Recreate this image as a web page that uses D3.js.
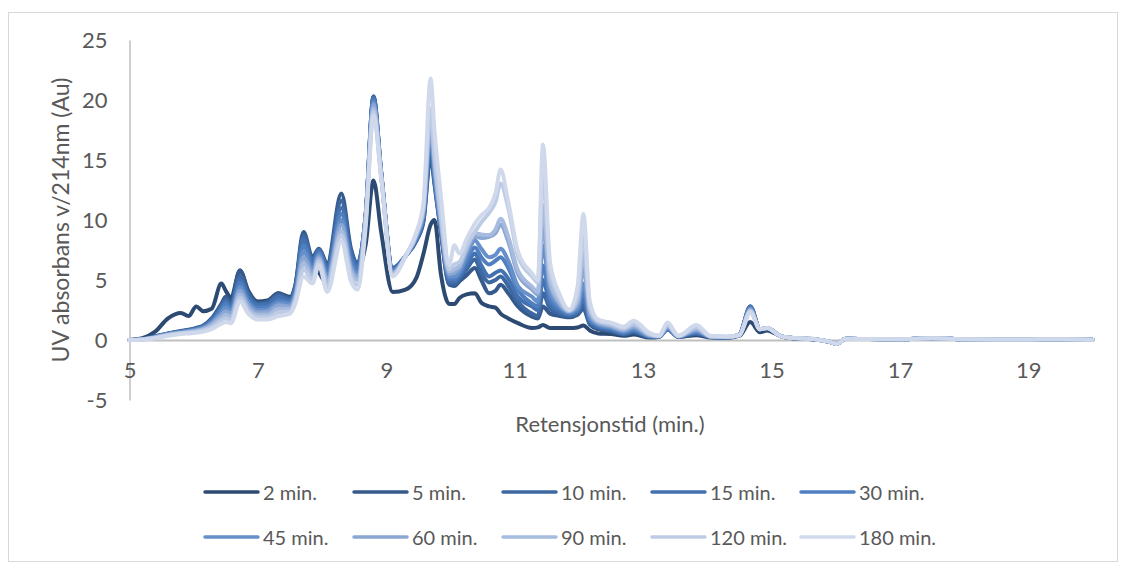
<!DOCTYPE html>
<html>
<head>
<meta charset="utf-8">
<script src="https://cdn.jsdelivr.net/npm/d3@7"></script>
<style>
  html, body { margin: 0; padding: 0; background: #ffffff; }
  svg { display: block; }
  svg text { font-family: Lato, "Open Sans", sans-serif; }
</style>
</head>
<body>
<svg id="chart" width="1125" height="565"></svg>
<script>
// Retention times (min.) shared by all chromatograms
const times = [5.0, 5.2, 5.4, 5.6, 5.8, 5.92, 6.04, 6.15, 6.28, 6.43,
  6.5, 6.58, 6.72, 6.85, 7.0, 7.15, 7.32, 7.5, 7.58, 7.71,
  7.85, 7.95, 8.08, 8.3, 8.45, 8.55, 8.68, 8.8, 8.92, 9.1,
  9.3, 9.47, 9.58, 9.69, 9.75, 9.85, 9.98, 10.06, 10.14, 10.25,
  10.38, 10.48, 10.6, 10.7, 10.78, 10.9, 11.05, 11.27, 11.36, 11.44,
  11.55, 11.7, 11.85, 11.98, 12.07, 12.17, 12.3, 12.5, 12.7, 12.85,
  13.1, 13.25, 13.38, 13.55, 13.83, 14.05, 14.3, 14.5, 14.67, 14.82,
  14.93, 15.15, 15.35, 15.7, 15.9, 16.02, 16.15, 16.5, 17.0, 17.5,
  18.0, 18.5, 19.0, 19.5, 20.0];

// UV absorbance at 214 nm (Au) for each hydrolysis time
const abs2 = [0, 0.15, 0.7, 1.8, 2.25, 2.0, 2.8, 2.4, 2.6, 4.7,
  4.1, 3.5, 5.8, 4.1, 3.2, 3.3, 3.9, 3.6, 4.4, 8.4,
  6.2, 5.6, 4.7, 9.8, 7.0, 5.9, 8.0, 13.3, 9.0, 4.0,
  4.2, 5.2, 7.2, 9.6, 10.0, 5.5, 3.0, 3.0, 3.5, 3.8,
  3.9, 3.1, 2.8, 2.7, 2.2, 1.8, 1.4, 1.0, 1.05, 1.25,
  1.0, 1.0, 1.0, 1.05, 1.2, 0.8, 0.55, 0.5, 0.35, 0.45,
  0.2, 0.25, 0.9, 0.25, 0.4, 0.2, 0.2, 0.35, 1.5, 0.65,
  0.8, 0.3, 0.15, 0.05, -0.15, -0.33, 0.1, 0.08, 0.07, 0.15,
  0.07, 0.05, 0.05, 0.07, 0.03];
const abs5 = [0, 0.08, 0.3, 0.55, 0.75, 0.85, 1.0, 1.2, 1.8, 3.0,
  3.6, 3.1, 5.8, 4.0, 3.1, 3.2, 3.9, 3.5, 4.5, 9.0,
  6.9, 7.6, 6.4, 12.2, 7.6, 6.4, 10.5, 20.3, 14.0, 6.0,
  7.0, 8.3, 9.9, 15.3, 13.0, 9.0, 4.6, 4.5, 4.9, 5.4,
  6.0, 5.0, 3.9, 4.1, 4.6, 3.9, 2.8, 1.95, 1.8, 2.8,
  2.2, 2.0, 1.9, 2.1, 2.6, 1.3, 0.9, 0.7, 0.45, 0.6,
  0.25, 0.3, 0.9, 0.3, 0.5, 0.25, 0.2, 0.45, 2.8, 0.9,
  1.0, 0.3, 0.15, 0.05, -0.15, -0.33, 0.1, 0.08, 0.07, 0.15,
  0.07, 0.05, 0.05, 0.07, 0.03];
const abs10 = [0, 0.07, 0.29, 0.53, 0.72, 0.82, 0.97, 1.17, 1.72, 2.85,
  3.4, 2.95, 5.3, 3.8, 3.0, 3.1, 3.75, 3.4, 4.35, 8.7,
  6.7, 7.55, 6.2, 11.6, 7.4, 6.3, 10.5, 20.3, 14.0, 6.0,
  7.0, 8.3, 10.0, 15.8, 13.2, 9.1, 4.7, 4.7, 5.1, 5.9,
  6.7, 5.6, 4.8, 5.0, 5.3, 4.5, 3.2, 2.2, 2.0, 3.9,
  2.6, 2.2, 2.0, 2.2, 2.9, 1.4, 1.0, 0.78, 0.5, 0.68,
  0.28, 0.3, 0.9, 0.3, 0.55, 0.25, 0.2, 0.45, 2.8, 0.9,
  1.0, 0.3, 0.16, 0.05, -0.15, -0.32, 0.1, 0.08, 0.07, 0.15,
  0.07, 0.05, 0.05, 0.07, 0.03];
const abs15 = [0, 0.07, 0.28, 0.52, 0.7, 0.8, 0.95, 1.13, 1.65, 2.7,
  3.2, 2.8, 5.0, 3.6, 2.9, 2.95, 3.6, 3.3, 4.2, 8.4,
  6.5, 7.45, 6.0, 11.0, 7.1, 6.1, 10.5, 20.2, 13.9, 5.9,
  7.0, 8.4, 10.2, 16.5, 13.4, 9.2, 4.9, 4.9, 5.3, 6.2,
  7.2, 6.2, 5.3, 5.6, 5.8, 5.1, 3.6, 2.8, 2.5, 5.0,
  3.0, 2.4, 2.1, 2.4, 3.4, 1.6, 1.1, 0.85, 0.55, 0.75,
  0.3, 0.3, 0.92, 0.3, 0.6, 0.26, 0.21, 0.44, 2.75, 0.9,
  1.0, 0.3, 0.16, 0.05, -0.15, -0.32, 0.1, 0.08, 0.07, 0.15,
  0.07, 0.05, 0.05, 0.07, 0.03];
const abs30 = [0, 0.06, 0.26, 0.5, 0.67, 0.77, 0.9, 1.08, 1.55, 2.5,
  3.0, 2.6, 4.7, 3.3, 2.7, 2.75, 3.3, 3.15, 4.0, 7.9,
  6.2, 7.3, 5.7, 10.5, 6.7, 5.9, 10.5, 20.0, 13.9, 5.8,
  7.0, 8.5, 10.4, 17.0, 13.7, 9.4, 5.1, 5.1, 5.5, 6.6,
  7.7, 6.9, 6.3, 6.6, 6.9, 6.0, 4.2, 3.05, 2.8, 6.2,
  3.5, 2.6, 2.2, 2.5, 4.0, 1.7, 1.2, 0.95, 0.6, 0.85,
  0.32, 0.3, 0.95, 0.3, 0.65, 0.26, 0.22, 0.44, 2.7, 0.9,
  1.0, 0.3, 0.16, 0.05, -0.14, -0.32, 0.1, 0.08, 0.07, 0.15,
  0.07, 0.05, 0.05, 0.07, 0.03];
const abs45 = [0, 0.06, 0.24, 0.48, 0.64, 0.73, 0.85, 1.02, 1.45, 2.3,
  2.7, 2.4, 4.4, 3.1, 2.5, 2.55, 3.1, 3.0, 3.8, 7.4,
  5.9, 7.1, 5.4, 10.0, 6.3, 5.6, 10.4, 19.8, 13.8, 5.7,
  7.0, 8.6, 10.6, 17.4, 14.0, 9.6, 5.3, 5.3, 5.7, 7.0,
  8.3, 7.6, 6.9, 7.1, 7.6, 6.6, 4.5, 3.6, 3.2, 7.9,
  4.0, 2.8, 2.3, 2.7, 4.7, 1.9, 1.3, 1.05, 0.7, 0.95,
  0.35, 0.3, 1.0, 0.3, 0.75, 0.27, 0.23, 0.43, 2.6, 0.9,
  1.0, 0.3, 0.16, 0.05, -0.14, -0.32, 0.1, 0.08, 0.07, 0.15,
  0.07, 0.05, 0.05, 0.07, 0.03];
const abs60 = [0, 0.05, 0.22, 0.45, 0.6, 0.7, 0.8, 0.95, 1.35, 2.1,
  2.4, 2.2, 4.1, 2.9, 2.3, 2.35, 2.9, 2.8, 3.6, 6.9,
  5.6, 6.9, 5.1, 9.6, 6.0, 5.3, 10.3, 19.6, 13.8, 5.6,
  7.0, 8.7, 10.8, 18.0, 14.5, 9.8, 5.5, 5.6, 6.0, 7.4,
  8.6, 8.5, 8.6, 8.9, 9.6, 8.2, 5.5, 4.2, 3.8, 9.5,
  4.6, 3.0, 2.4, 3.0, 6.0, 2.2, 1.4, 1.15, 0.8, 1.1,
  0.4, 0.32, 1.1, 0.32, 0.85, 0.28, 0.25, 0.43, 2.5, 0.9,
  1.0, 0.3, 0.17, 0.05, -0.14, -0.32, 0.1, 0.08, 0.07, 0.15,
  0.07, 0.05, 0.05, 0.07, 0.03];
const abs90 = [0, 0.05, 0.2, 0.42, 0.58, 0.65, 0.74, 0.88, 1.2, 1.85,
  2.1, 1.9, 3.8, 2.6, 2.1, 2.1, 2.6, 2.6, 3.4, 6.4,
  5.3, 6.7, 4.8, 9.1, 5.7, 5.0, 10.2, 19.3, 13.7, 5.5,
  7.0, 8.8, 11.0, 18.75, 15.0, 10.2, 5.7, 5.9, 6.2, 7.6,
  8.9, 8.8, 8.75, 9.2, 10.1, 8.6, 5.8, 4.45, 4.0, 11.25,
  5.0, 3.2, 2.4, 3.3, 7.2, 2.5, 1.5, 1.25, 0.9, 1.25,
  0.45, 0.33, 1.2, 0.33, 0.95, 0.3, 0.26, 0.42, 2.45, 0.9,
  1.0, 0.3, 0.17, 0.05, -0.14, -0.32, 0.1, 0.08, 0.07, 0.15,
  0.07, 0.05, 0.05, 0.07, 0.03];
const abs120 = [0, 0.04, 0.18, 0.4, 0.55, 0.6, 0.68, 0.8, 1.05, 1.6,
  1.8, 1.65, 3.5, 2.4, 1.9, 1.9, 2.3, 2.4, 3.2, 5.9,
  5.0, 6.5, 4.4, 8.7, 5.3, 4.6, 10.0, 19.0, 13.6, 5.4,
  7.0, 8.9, 11.2, 19.3, 15.5, 10.5, 5.9, 6.3, 6.5, 7.9,
  9.0, 9.8, 10.6, 11.5, 13.05, 11.0, 7.0, 5.3, 4.8, 13.8,
  5.8, 3.5, 2.5, 3.8, 8.6, 2.8, 1.6, 1.35, 1.0, 1.4,
  0.5, 0.35, 1.3, 0.35, 1.1, 0.32, 0.28, 0.42, 2.4, 0.9,
  1.0, 0.3, 0.17, 0.05, -0.14, -0.32, 0.1, 0.08, 0.07, 0.15,
  0.07, 0.05, 0.05, 0.07, 0.03];
const abs180 = [0, 0.03, 0.15, 0.35, 0.5, 0.55, 0.6, 0.7, 0.9, 1.35,
  1.5, 1.4, 3.2, 2.2, 1.7, 1.7, 2.0, 2.2, 3.0, 5.3,
  4.7, 6.25, 4.0, 8.2, 4.9, 4.2, 9.5, 18.7, 13.5, 5.3,
  7.0, 9.0, 11.5, 21.8, 17.5, 12.0, 6.3, 7.9, 7.2, 8.4,
  9.7, 10.4, 11.0, 12.2, 14.2, 11.5, 7.4, 5.55, 5.0, 16.3,
  6.5, 3.8, 2.5, 4.5, 10.5, 3.2, 1.7, 1.45, 1.1, 1.6,
  0.6, 0.35, 1.45, 0.35, 1.25, 0.35, 0.3, 0.4, 2.3, 0.9,
  1.0, 0.3, 0.17, 0.05, -0.14, -0.32, 0.1, 0.08, 0.07, 0.15,
  0.07, 0.05, 0.05, 0.07, 0.03];

const seriesNames = ["2 min.", "5 min.", "10 min.", "15 min.", "30 min.",
  "45 min.", "60 min.", "90 min.", "120 min.", "180 min."];
const seriesValues = [abs2, abs5, abs10, abs15, abs30, abs45, abs60, abs90, abs120, abs180];
const seriesColors = ["#2c4a72", "#355a8b", "#3c67a1", "#4472b1", "#4f7fc0",
  "#6690c9", "#8ba6d3", "#a7bbdf", "#bdcbe5", "#cfd9eb"];

const xTicks = [5, 7, 9, 11, 13, 15, 17, 19];
const yTicks = [-5, 0, 5, 10, 15, 20, 25];
const xTitle = "Retensjonstid (min.)";
const yTitle = "UV absorbans v/214nm (Au)";

const svg = d3.select("#chart");
const textColor = "#595959";
const axisColor = "#bfbfbf";
const fontStack = "Lato, 'Open Sans', sans-serif";

// outer chart frame
svg.append("rect")
  .attr("x", 8.5).attr("y", 12.5)
  .attr("width", 1109).attr("height", 549)
  .attr("fill", "#ffffff").attr("stroke", "#d9d9d9").attr("stroke-width", 1);

const x = d3.scaleLinear().domain([5, 20]).range([129.5, 1092.5]);
const y = d3.scaleLinear().domain([-5, 25]).range([400, 40]);

// vertical axis
const yAxis = svg.append("g").attr("transform", `translate(${x(5)},0)`)
  .call(d3.axisLeft(y).tickValues(yTicks).tickSize(0).tickPadding(22)
    .tickFormat(d => String(d)));
yAxis.attr("font-family", fontStack);
yAxis.select(".domain").attr("stroke", axisColor).attr("stroke-width", 1.5);
yAxis.selectAll("text").attr("fill", textColor).style("font-size", "22px")
  .attr("dy", "0.36em");

// horizontal axis drawn at zero, labels set lower
const xAxis = svg.append("g").attr("transform", `translate(0,${y(0)})`)
  .call(d3.axisBottom(x).tickValues(xTicks).tickSize(0).tickPadding(0)
    .tickFormat(d => String(d)));
xAxis.attr("font-family", fontStack);
xAxis.select(".domain").attr("stroke", axisColor).attr("stroke-width", 2);
xAxis.selectAll("text").attr("fill", textColor).style("font-size", "22px")
  .attr("y", 30).attr("dy", "0.36em");

// series lines, lightest drawn last
const line = d3.line()
  .x((d, i) => x(times[i]))
  .y(d => y(d))
  .curve(d3.curveMonotoneX);

const plot = svg.append("g");
seriesValues.forEach((vals, k) => {
  plot.append("path")
    .datum(vals)
    .attr("d", line)
    .attr("fill", "none")
    .attr("stroke", seriesColors[k])
    .attr("stroke-width", 4)
    .attr("stroke-linejoin", "round")
    .attr("stroke-linecap", "round");
});

// axis titles
svg.append("text")
  .attr("transform", `translate(60,220) rotate(-90)`)
  .attr("text-anchor", "middle").attr("dominant-baseline", "central")
  .attr("fill", textColor).style("font-size", "23px")
  .text(yTitle);

svg.append("text")
  .attr("x", 610).attr("y", 423)
  .attr("text-anchor", "middle").attr("dominant-baseline", "central")
  .attr("fill", textColor).style("font-size", "22px")
  .text(xTitle);

// legend, two rows of five
const legend = svg.append("g");
seriesNames.forEach((name, k) => {
  const col = k % 5, row = Math.floor(k / 5);
  const lx = 205 + col * 149, ly = 492 + row * 45;
  const g = legend.append("g").attr("transform", `translate(${lx},${ly})`);
  g.append("line").attr("x1", 0).attr("x2", 53).attr("y1", 0).attr("y2", 0)
    .attr("stroke", seriesColors[k]).attr("stroke-width", 3.5)
    .attr("stroke-linecap", "round");
  g.append("text").attr("x", 58).attr("y", 0)
    .attr("dominant-baseline", "central")
    .attr("fill", textColor).style("font-size", "20px")
    .text(name);
});
</script>
</body>
</html>
